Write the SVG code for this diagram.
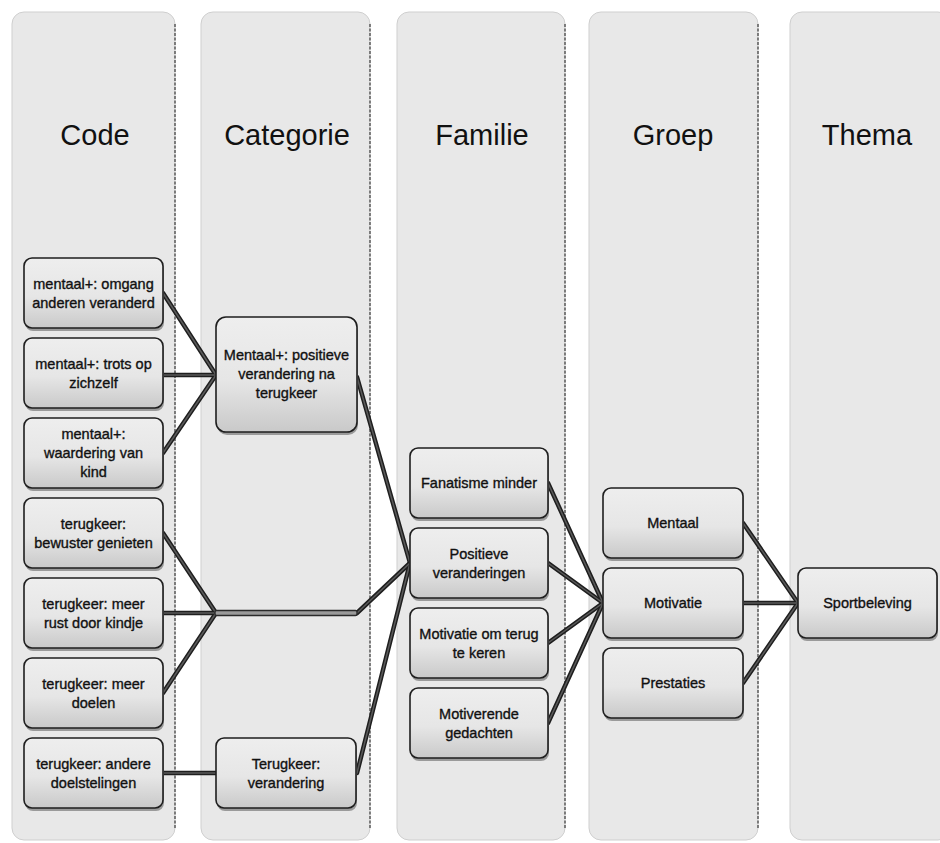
<svg xmlns="http://www.w3.org/2000/svg" width="940" height="843" viewBox="0 0 940 843">
<defs>
<linearGradient id="boxg" x1="0" y1="0" x2="0" y2="1">
<stop offset="0" stop-color="#eeeeee"/>
<stop offset="0.55" stop-color="#e6e6e6"/>
<stop offset="1" stop-color="#c9c9c9"/>
</linearGradient>
<style>
.col{fill:#e8e8e8;stroke:#cfcfcf;stroke-width:1}
.edge{stroke:#3a3a3a;stroke-width:1.2;stroke-dasharray:3 1.5;fill:none}
.hdr{font-family:"Liberation Sans",Arial,sans-serif;font-size:29px;fill:#111;text-anchor:middle}
.box{fill:url(#boxg);stroke:#1e1e1e;stroke-width:1.6}
.shd{fill:#9a9a9a}
.t{font-family:"Liberation Sans",Arial,sans-serif;font-size:14.5px;fill:#111;stroke:#111;stroke-width:0.35;text-anchor:middle}
.lo{stroke:#1e1e1e;stroke-width:4.5;fill:none;stroke-linecap:round}
.li{stroke:#5a5a5a;stroke-width:1.5;fill:none;stroke-linecap:round}
</style>
</defs>
<rect width="940" height="843" fill="#ffffff"/>

<g id="columns">
<rect class="col" x="12" y="12" width="163" height="828" rx="12"/>
<line class="edge" x1="175" y1="24" x2="175" y2="828"/>
<rect class="col" x="201" y="12" width="169" height="828" rx="12"/>
<line class="edge" x1="370" y1="24" x2="370" y2="828"/>
<rect class="col" x="397" y="12" width="168" height="828" rx="12"/>
<line class="edge" x1="565" y1="24" x2="565" y2="828"/>
<rect class="col" x="589" y="12" width="169" height="828" rx="12"/>
<line class="edge" x1="758" y1="24" x2="758" y2="828"/>
<rect class="col" x="790" y="12" width="160" height="828" rx="12"/>
<text class="hdr" x="95" y="145">Code</text>
<text class="hdr" x="287" y="145">Categorie</text>
<text class="hdr" x="482" y="145">Familie</text>
<text class="hdr" x="673" y="145">Groep</text>
<text class="hdr" x="867" y="145">Thema</text>
</g>

<g id="connectors">
<g class="lo">
<line x1="163" y1="293" x2="216" y2="375"/>
<line x1="163" y1="375" x2="216" y2="375"/>
<line x1="163" y1="453" x2="216" y2="375"/>
<line x1="163" y1="533" x2="216" y2="613"/>
<line x1="163" y1="613" x2="216" y2="613"/>
<line x1="163" y1="693" x2="216" y2="613"/>
<line x1="163" y1="773" x2="216" y2="773"/>
<line x1="357" y1="377" x2="410" y2="563"/>
<line x1="357" y1="613" x2="410" y2="563"/>
<line x1="357" y1="773" x2="410" y2="563"/>
<line x1="548" y1="483" x2="603" y2="603"/>
<line x1="548" y1="563" x2="603" y2="603"/>
<line x1="548" y1="643" x2="603" y2="603"/>
<line x1="548" y1="723" x2="603" y2="603"/>
<line x1="743" y1="523" x2="798" y2="603"/>
<line x1="743" y1="603" x2="798" y2="603"/>
<line x1="743" y1="683" x2="798" y2="603"/>
</g>
<g class="li">
<line x1="163" y1="293" x2="216" y2="375"/>
<line x1="163" y1="375" x2="216" y2="375"/>
<line x1="163" y1="453" x2="216" y2="375"/>
<line x1="163" y1="533" x2="216" y2="613"/>
<line x1="163" y1="613" x2="216" y2="613"/>
<line x1="163" y1="693" x2="216" y2="613"/>
<line x1="163" y1="773" x2="216" y2="773"/>
<line x1="357" y1="377" x2="410" y2="563"/>
<line x1="357" y1="613" x2="410" y2="563"/>
<line x1="357" y1="773" x2="410" y2="563"/>
<line x1="548" y1="483" x2="603" y2="603"/>
<line x1="548" y1="563" x2="603" y2="603"/>
<line x1="548" y1="643" x2="603" y2="603"/>
<line x1="548" y1="723" x2="603" y2="603"/>
<line x1="743" y1="523" x2="798" y2="603"/>
<line x1="743" y1="603" x2="798" y2="603"/>
<line x1="743" y1="683" x2="798" y2="603"/>
</g>
</g>

<g id="code1"><rect class="shd" x="25" y="261" width="139" height="70" rx="8"/><rect class="box" x="24" y="258" width="139" height="70" rx="8"/><text class="t" x="93.5" y="289">mentaal+: omgang</text><text class="t" x="93.5" y="308">anderen veranderd</text></g>
<g id="code2"><rect class="shd" x="25" y="341" width="139" height="70" rx="8"/><rect class="box" x="24" y="338" width="139" height="70" rx="8"/><text class="t" x="93.5" y="369">mentaal+: trots op</text><text class="t" x="93.5" y="388">zichzelf</text></g>
<g id="code3"><rect class="shd" x="25" y="421" width="139" height="70" rx="8"/><rect class="box" x="24" y="418" width="139" height="70" rx="8"/><text class="t" x="93.5" y="439">mentaal+:</text><text class="t" x="93.5" y="458">waardering van</text><text class="t" x="93.5" y="477">kind</text></g>
<g id="code4"><rect class="shd" x="25" y="501" width="139" height="70" rx="8"/><rect class="box" x="24" y="498" width="139" height="70" rx="8"/><text class="t" x="93.5" y="529">terugkeer:</text><text class="t" x="93.5" y="548">bewuster genieten</text></g>
<g id="code5"><rect class="shd" x="25" y="581" width="139" height="70" rx="8"/><rect class="box" x="24" y="578" width="139" height="70" rx="8"/><text class="t" x="93.5" y="609">terugkeer: meer</text><text class="t" x="93.5" y="628">rust door kindje</text></g>
<g id="code6"><rect class="shd" x="25" y="661" width="139" height="70" rx="8"/><rect class="box" x="24" y="658" width="139" height="70" rx="8"/><text class="t" x="93.5" y="689">terugkeer: meer</text><text class="t" x="93.5" y="708">doelen</text></g>
<g id="code7"><rect class="shd" x="25" y="741" width="139" height="70" rx="8"/><rect class="box" x="24" y="738" width="139" height="70" rx="8"/><text class="t" x="93.5" y="769">terugkeer: andere</text><text class="t" x="93.5" y="788">doelstelingen</text></g>

<g id="cat1"><rect class="shd" x="217" y="320" width="141" height="115" rx="10"/><rect class="box" x="216" y="317" width="141" height="115" rx="10"/><text class="t" x="286.5" y="360">Mentaal+: positieve</text><text class="t" x="286.5" y="379">verandering na</text><text class="t" x="286.5" y="398">terugkeer</text></g>
<g id="cat2"><rect class="box" x="215" y="610.5" width="142" height="5" rx="1.5" style="fill:#9a9a9a;stroke:#2a2a2a;stroke-width:1.4"/></g>
<g id="cat3"><rect class="shd" x="217" y="741" width="140" height="70" rx="8"/><rect class="box" x="216" y="738" width="140" height="70" rx="8"/><text class="t" x="286" y="769">Terugkeer:</text><text class="t" x="286" y="788">verandering</text></g>

<g id="fam1"><rect class="shd" x="411" y="451" width="138" height="70" rx="8"/><rect class="box" x="410" y="448" width="138" height="70" rx="8"/><text class="t" x="479" y="488">Fanatisme minder</text></g>
<g id="fam2"><rect class="shd" x="411" y="531" width="138" height="70" rx="8"/><rect class="box" x="410" y="528" width="138" height="70" rx="8"/><text class="t" x="479" y="559">Positieve</text><text class="t" x="479" y="578">veranderingen</text></g>
<g id="fam3"><rect class="shd" x="411" y="611" width="138" height="70" rx="8"/><rect class="box" x="410" y="608" width="138" height="70" rx="8"/><text class="t" x="479" y="639">Motivatie om terug</text><text class="t" x="479" y="658">te keren</text></g>
<g id="fam4"><rect class="shd" x="411" y="691" width="138" height="70" rx="8"/><rect class="box" x="410" y="688" width="138" height="70" rx="8"/><text class="t" x="479" y="719">Motiverende</text><text class="t" x="479" y="738">gedachten</text></g>

<g id="grp1"><rect class="shd" x="604" y="491" width="140" height="70" rx="8"/><rect class="box" x="603" y="488" width="140" height="70" rx="8"/><text class="t" x="673" y="528">Mentaal</text></g>
<g id="grp2"><rect class="shd" x="604" y="571" width="140" height="70" rx="8"/><rect class="box" x="603" y="568" width="140" height="70" rx="8"/><text class="t" x="673" y="608">Motivatie</text></g>
<g id="grp3"><rect class="shd" x="604" y="651" width="140" height="70" rx="8"/><rect class="box" x="603" y="648" width="140" height="70" rx="8"/><text class="t" x="673" y="688">Prestaties</text></g>

<g id="thema1"><rect class="shd" x="799" y="571" width="139" height="70" rx="8"/><rect class="box" x="798" y="568" width="139" height="70" rx="8"/><text class="t" x="867.5" y="608">Sportbeleving</text></g>
</svg>
